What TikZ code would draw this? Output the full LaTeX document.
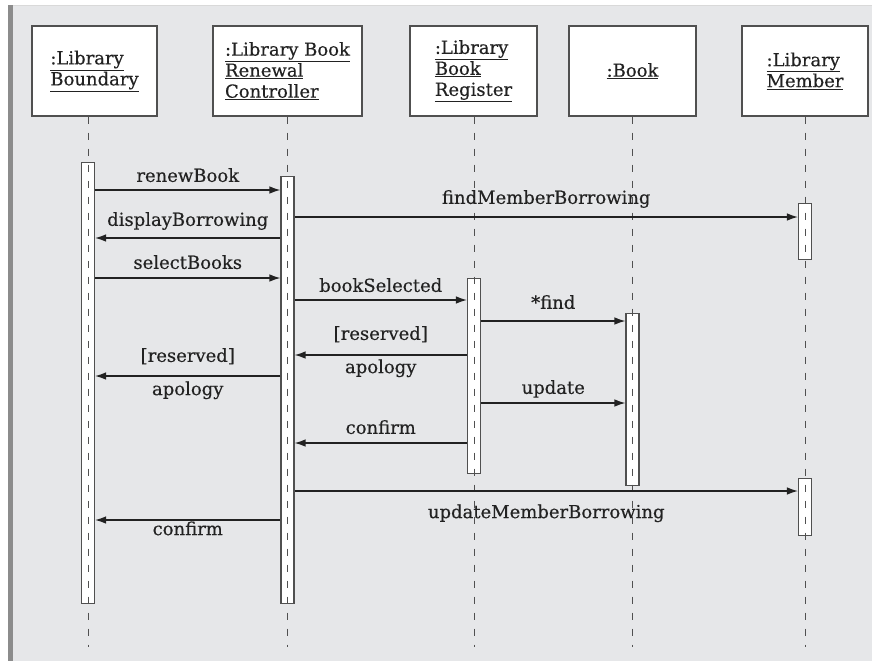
\documentclass[tikz,border=0pt]{standalone}
\usepackage{fontspec}
\setmainfont{DejaVu Serif}
\newfontfamily\diafont{DejaVu Serif}[FakeBold=0.35]
\usetikzlibrary{arrows.meta}
\definecolor{panel}{HTML}{E6E7E9}
\definecolor{ink}{HTML}{222222}
\definecolor{rim}{HTML}{8C8C8C}
\definecolor{lline}{HTML}{505050}
\begin{document}
\begin{tikzpicture}[x=1pt,y=-1pt,
  font=\diafont\fontsize{18}{21}\selectfont,
  objbox/.style={draw=lline, fill=white, line width=1.2pt, minimum height=90pt, inner sep=0pt, text=ink, align=left},
  life/.style={draw=lline, line width=1pt, dash pattern=on 7pt off 9pt},
  act/.style={draw=lline, fill=white, line width=1.1pt, minimum width=13pt, inner sep=0pt, anchor=north},
  msg/.style={draw=ink, line width=1.3pt, -{Latex[length=11pt,width=7.5pt]}},
  lbl/.style={text=ink, inner sep=0pt, text height=13pt, text depth=4pt}]
\useasboundingbox (0,0) rectangle (872,661);
% panel
\fill[white] (0,0) rectangle (872,661);
\fill[panel] (8,5) rectangle (872,661);
\fill[rim] (8,5) rectangle (13,661);
\draw[white!85!black, line width=0.8pt] (13,5.5) -- (872,5.5);
% object boxes
\node[objbox, minimum width=125pt] (oB) at (94.5,71) {\underline{:Library}\\\underline{Boundary}};
\node[objbox, minimum width=149pt] (oC) at (287.5,71) {\underline{:Library Book}\\\underline{Renewal}\\\underline{Controller}};
\node[objbox, minimum width=127pt] (oR) at (473.5,71) {\underline{:Library}\\\underline{Book}\\\underline{Register}};
\node[objbox, minimum width=127pt] (oK) at (632.5,71) {\underline{:Book}};
\node[objbox, minimum width=126pt] (oM) at (805,71) {\underline{:Library}\\\underline{Member}};
% lifeline ends
\coordinate (eB) at (88,647);
\coordinate (eC) at (287.5,647);
\coordinate (eR) at (474,647);
\coordinate (eK) at (632.5,647);
\coordinate (eM) at (805,647);
% activations
\node[act, minimum height=441pt] (aB) at (88,162) {};
\node[act, minimum height=427pt] (aC) at (287.5,176) {};
\node[act, minimum height=195pt] (aR) at (474,278) {};
\node[act, minimum height=172pt] (aK) at (632.5,313) {};
\node[act, minimum height=56pt] (aM1) at (805,203) {};
\node[act, minimum height=57pt] (aM2) at (805,478) {};
% lifelines
\draw[life] (eB |- oB.south) -- (eB);
\draw[life] (oC.south) -- (eC);
\draw[life] (eR |- oR.south) -- (eR);
\draw[life] (oK.south) -- (eK);
\draw[life] (oM.south) -- (eM);
% messages
\draw[msg] (aB.east |- 0,190) -- node[lbl, above=3.5pt] {renewBook} (aC.west |- 0,190);
\draw[msg] (aC.east |- 0,217) -- node[lbl, above=8.5pt] {findMemberBorrowing} (aM1.west |- 0,217);
\draw[msg] (aC.west |- 0,238) -- node[lbl, above=7.5pt] {displayBorrowing} (aB.east |- 0,238);
\draw[msg] (aB.east |- 0,278) -- node[lbl, above=4.5pt] {selectBooks} (aC.west |- 0,278);
\draw[msg] (aC.east |- 0,300) -- node[lbl, above=3.5pt] {bookSelected} (aR.west |- 0,300);
\draw[msg] (aR.east |- 0,321) -- node[lbl, above=7.5pt] {*find} (aK.west |- 0,321);
\draw[msg] (aR.west |- 0,355) -- node[lbl, above=10.5pt] {[reserved]} node[lbl, below=4.5pt] {apology} (aC.east |- 0,355);
\draw[msg] (aC.west |- 0,376) -- node[lbl, above=9.5pt] {[reserved]} node[lbl, below=5.5pt] {apology} (aB.east |- 0,376);
\draw[msg] (aR.east |- 0,403) -- node[lbl, above=4.5pt] {update} (aK.west |- 0,403);
\draw[msg] (aR.west |- 0,443) -- node[lbl, above=4.5pt] {confirm} (aC.east |- 0,443);
\draw[msg] (aC.east |- 0,491) -- node[lbl, below=13.5pt] {updateMemberBorrowing} (aM2.west |- 0,491);
\draw[msg] (aC.west |- 0,520) -- node[lbl, below=1.5pt] {confirm} (aB.east |- 0,520);
\end{tikzpicture}
\end{document}
